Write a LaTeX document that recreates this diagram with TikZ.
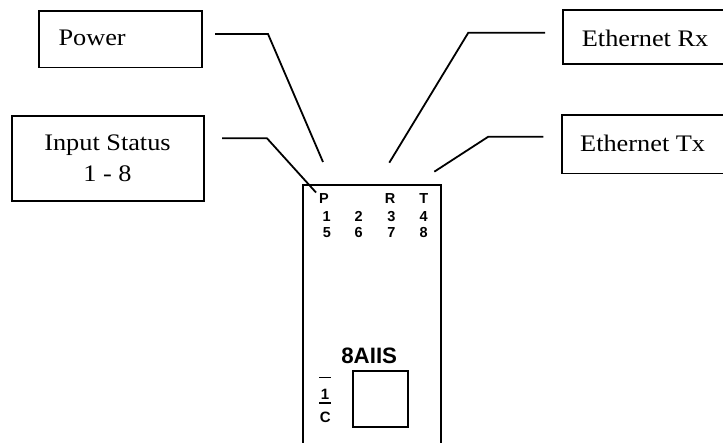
\documentclass[tikz,border=0pt]{standalone}
\usepackage{fontspec}
\setmainfont{Liberation Serif}
\newfontfamily\labfont[FakeStretch=1.11]{Liberation Serif}
\newfontfamily\arialfont{Liberation Sans}
\begin{document}
\begin{tikzpicture}[x=1pt,y=-1pt,
  lab/.style={font=\labfont\fontsize{23.7}{31}\selectfont, inner sep=0pt},
  ledl/.style={font=\arialfont\bfseries\fontsize{14.5}{14.5}\selectfont, inner sep=0pt, anchor=base},
  callout/.style={draw, line width=1.8pt, inner sep=0pt, anchor=north west},
  lead/.style={line width=1.8pt},
  modline/.style={line width=2.3pt}]
\useasboundingbox (0,0) rectangle (723,443);
\clip (0,0) rectangle (723,443);
% callout boxes
\node[callout, minimum width=162.4pt, minimum height=56.7pt] (pwrbox) at (38.3,10) {};
\node[callout, minimum width=192pt, minimum height=85pt] (inpbox) at (11,115) {};
\node[callout, minimum width=185pt, minimum height=54pt] (rxbox) at (562,9.3) {};
\node[callout, minimum width=185pt, minimum height=58.4pt] (txbox) at (561,114.3) {};
% callout texts
\node[lab, anchor=base west] (pwr) at (58.3,45.7) {Power};
\node[lab, align=center] (inp) at (107.5,158.3) {Input Status\\1 - 8};
\node[lab, anchor=base west] (rx) at (581.7,46.7) {Ethernet Rx};
\node[lab, anchor=base west] (tx) at (580,151.7) {Ethernet Tx};
% leader coordinates
\coordinate (pwrA) at (215,34);
\coordinate (pwrB) at (268,34);
\coordinate (pwrC) at (323,162);
\coordinate (inpA) at (222,138.3);
\coordinate (inpB) at (267,138.3);
\coordinate (inpC) at (316,192.5);
\coordinate (rxA) at (545,32.7);
\coordinate (rxB) at (468.3,32.7);
\coordinate (rxC) at (389.3,162.7);
\coordinate (txA) at (543.3,136.7);
\coordinate (txB) at (488.3,136.7);
\coordinate (txC) at (434.3,171.7);
\draw[lead] (pwrA) -- (pwrB) -- (pwrC);
\draw[lead] (inpA) -- (inpB) -- (inpC);
\draw[lead] (rxA) -- (rxB) -- (rxC);
\draw[lead] (txA) -- (txB) -- (txC);
% module outline
\draw[modline] (303,450) -- (303,185) -- (441,185) -- (441,450);
% LED labels
\node[ledl] (lP) at (324,203.3) {P};
\node[ledl] (lR) at (390,203.3) {R};
\node[ledl] (lT) at (423.7,203.3) {T};
\node[ledl] (l1) at (326.7,221.7) {1};
\node[ledl] (l2) at (358.7,221.7) {2};
\node[ledl] (l3) at (391.3,221.7) {3};
\node[ledl] (l4) at (423.7,221.7) {4};
\node[ledl] (l5) at (327,237.3) {5};
\node[ledl] (l6) at (358.7,237.3) {6};
\node[ledl] (l7) at (391.3,237.3) {7};
\node[ledl] (l8) at (423.7,237.3) {8};
% model name and switch
\node[font=\arialfont\bfseries\fontsize{22.3}{22.3}\selectfont, inner sep=0pt, anchor=base] (model) at (369.2,363.3) {8AIIS};
\node[draw, line width=1.8pt, inner sep=0pt, anchor=north west, minimum width=55.6pt, minimum height=56pt] (sw) at (351.7,370) {};
\node[font=\arialfont\bfseries\fontsize{15}{15}\selectfont, inner sep=0pt, anchor=base] (one) at (325,400) {1};
\node[font=\arialfont\bfseries\fontsize{15}{15}\selectfont, inner sep=0pt, anchor=base] (cc) at (325.3,422.7) {C};
\coordinate (ovA) at (319.3,377.7);
\coordinate (ovB) at (330.7,377.7);
\coordinate (brA) at (319.3,403.3);
\coordinate (brB) at (330.7,403.3);
\draw[line width=1.6pt] (ovA) -- (ovB);
\draw[line width=1.6pt] (brA) -- (brB);
\end{tikzpicture}
\end{document}
